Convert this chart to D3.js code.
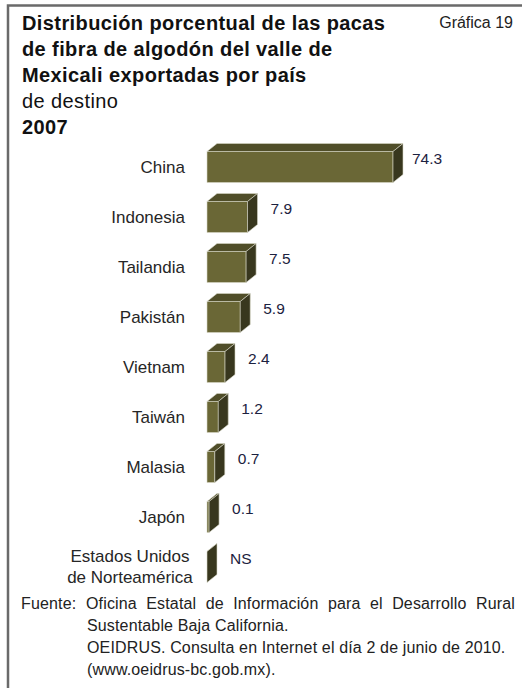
<!DOCTYPE html>
<html>
<head>
<meta charset="utf-8">
<style>
  body { margin: 0; background: #fff; }
  svg text { font-family: "Liberation Sans", Arial, sans-serif; }
</style>
</head>
<body>
<div id="chart"></div>
<script src="https://cdn.jsdelivr.net/npm/d3@7"></script>
<script>
// data
var paises = ["China", "Indonesia", "Tailandia", "Pakistán", "Vietnam", "Taiwán", "Malasia", "Japón", "Estados Unidos|de Norteamérica"];
var porcentajes = [74.3, 7.9, 7.5, 5.9, 2.4, 1.2, 0.7, 0.1, 0];
var etiquetas = ["74.3", "7.9", "7.5", "5.9", "2.4", "1.2", "0.7", "0.1", "NS"];

var titulo = ["Distribución porcentual de las pacas", "de fibra de algodón del valle de", "Mexicali exportadas por país"];
var fuente = ["Oficina Estatal de Información para el Desarrollo Rural", "Sustentable Baja California.", "OEIDRUS. Consulta en Internet el día 2 de junio de 2010.", "(www.oeidrus-bc.gob.mx)."];

var W = 522, H = 688;
var svg = d3.select("#chart").append("svg")
    .attr("width", W)
    .attr("height", H);

// marco
svg.append("path")
    .attr("d", "M8,688 V5.5 H522")
    .attr("fill", "none")
    .attr("stroke", "#6a6a6a")
    .attr("stroke-width", 2.5);

// titulo
var t = svg.append("g").attr("fill", "#111").attr("font-size", 20).attr("letter-spacing", 0.4);
titulo.forEach(function(s, i) {
  t.append("text")
    .attr("x", 22).attr("y", 30 + i * 26)
    .attr("font-weight", "bold")
    .text(s);
});
t.append("text").attr("x", 22).attr("y", 108).text("de destino");
t.append("text").attr("x", 22).attr("y", 134).attr("font-weight", "bold").text("2007");
svg.append("text").attr("x", 513).attr("y", 28).attr("text-anchor", "end")
  .attr("font-size", 16).attr("fill", "#222").text("Gráfica 19");

// escalas
var x0 = 207;
var x = d3.scalePow().exponent(0.68).domain([0, 74.3]).range([0, 186]);
var y = d3.scaleBand().domain(paises).range([142, 592]).paddingInner(0.38).paddingOuter(0.19);
var dx = 10, dy = -8;

var bars = svg.append("g").selectAll("g")
    .data(paises)
    .enter().append("g");

// cara frontal
bars.append("rect")
    .attr("x", x0)
    .attr("y", function(d) { return y(d); })
    .attr("width", function(d, i) { return x(porcentajes[i]); })
    .attr("height", y.bandwidth())
    .attr("fill", "#6a6736")
    .attr("stroke", "#d8d8c8").attr("stroke-width", 0.6);

// cara superior
bars.append("path")
    .attr("d", function(d, i) {
      var w = x(porcentajes[i]), yy = y(d);
      return "M" + x0 + "," + yy + " L" + (x0 + dx) + "," + (yy + dy) +
        " L" + (x0 + w + dx) + "," + (yy + dy) + " L" + (x0 + w) + "," + yy + "Z";
    })
    .attr("fill", "#504e29")
    .attr("stroke", "#d8d8c8").attr("stroke-width", 0.6);

// cara lateral
bars.append("path")
    .attr("d", function(d, i) {
      var w = x(porcentajes[i]), yy = y(d), h = y.bandwidth();
      return "M" + (x0 + w) + "," + yy + " L" + (x0 + w + dx) + "," + (yy + dy) +
        " L" + (x0 + w + dx) + "," + (yy + dy + h) + " L" + (x0 + w) + "," + (yy + h) + "Z";
    })
    .attr("fill", "#38371e")
    .attr("stroke", "#d8d8c8").attr("stroke-width", 0.6);

// valores
bars.append("text")
    .attr("x", function(d, i) { return x0 + x(porcentajes[i]) + dx + (i == 0 ? 9 : 13); })
    .attr("y", function(d) { return y(d) + y.bandwidth() / 2 - 3; })
    .attr("font-size", 15.5)
    .attr("fill", "#1c2240")
    .text(function(d, i) { return etiquetas[i]; });

// categorias
bars.each(function(d) {
  var lines = d.split("|");
  var g = d3.select(this);
  var cy = y(d) + y.bandwidth() / 2;
  if (lines.length == 1) {
    g.append("text").attr("x", 185).attr("y", cy + 6)
      .attr("text-anchor", "end").attr("font-size", 17).attr("fill", "#262626")
      .text(d);
  } else {
    lines.forEach(function(l, k) {
      g.append("text").attr("x", 130).attr("y", cy - 5 + k * 21)
        .attr("text-anchor", "middle").attr("font-size", 17).attr("fill", "#262626")
        .text(l);
    });
  }
});

// fuente
var f = svg.append("g").attr("font-size", 16).attr("fill", "#222").attr("letter-spacing", 0.15);
f.append("text").attr("x", 21).attr("y", 609).text("Fuente:");
fuente.forEach(function(s, i) {
  var tx = f.append("text")
    .attr("x", i == 0 ? 86 : 87).attr("y", 609 + i * 22)
    .text(s);
  if (i == 0) {
    // justificada hasta el margen derecho
    var L = tx.node().getComputedTextLength();
    var n = s.split(" ").length - 1;
    tx.attr("word-spacing", Math.max(0, (429 - L) / n));
  }
});
</script>
</body>
</html>
